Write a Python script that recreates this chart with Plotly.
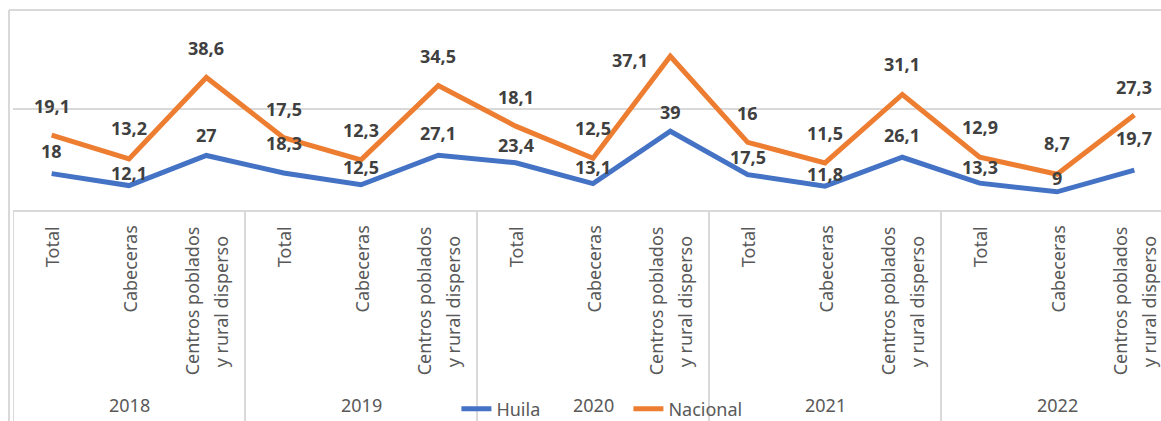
import numpy as np
import plotly.graph_objects as go

# ---- data ----
years = ["2018", "2019", "2020", "2021", "2022"]
areas = ["Total", "Cabeceras", "Centros poblados<br>y rural disperso"]
huila = [18, 12.1, 27, 18.3, 12.5, 27.1, 23.4, 13.1, 39, 17.5, 11.8, 26.1, 13.3, 9, 19.7]
nacional = [19.1, 13.2, 38.6, 17.5, 12.3, 34.5, 18.1, 12.5, 37.1, 16, 11.5, 31.1, 12.9, 8.7, 27.3]
huila_labels = ["18", "12,1", "27", "18,3", "12,5", "27,1", "23,4", "13,1", "39", "17,5", "11,8", "26,1", "13,3", "9", "19,7"]
nacional_labels = ["19,1", "13,2", "38,6", "17,5", "12,3", "34,5", "18,1", "12,5", "37,1", "16", "11,5", "31,1", "12,9", "8,7", "27,3"]

# label placement (pixels above the point; Excel labels were nudged individually)
huila_dy = [23, 13, 20, 30, 18, 22, 18, 17, 19, 18, 12, 22, 16, 14, 32]
nacional_dy = [29, 31, 29, 29, 30, 30, 29, 30, -4, 29, 30, 30, 30, 31, 28]
nacional_dx = [0, 0, 0, 0, 0, 0, 0, 0, -40, 0, 0, 0, 0, 0, 0]

BLUE = "#4472C4"
ORANGE = "#ED7D31"
GRID = "#D9D9D9"
TXT = "#595959"
LBL = "#404040"
FONT = "Noto Sans"

n = len(huila)
x = np.arange(n)
stack_top = np.array(huila) + np.array(nacional)

W, H = 1161, 421
ML, MT, MB = 13, 10, 211
plot_w = W - ML
plot_h = H - MT - MB
cat_w = 232 / 3.0

fig = go.Figure()
fig.add_trace(go.Scatter(x=x, y=huila, name="Huila", mode="lines", stackgroup="s", fill="none",
                         line=dict(color=BLUE, width=5), hoverinfo="skip"))
fig.add_trace(go.Scatter(x=x, y=nacional, name="Nacional", mode="lines", stackgroup="s", fill="none",
                         line=dict(color=ORANGE, width=5), hoverinfo="skip"))

ann = []
for i in range(n):
    ann.append(dict(x=i, y=huila[i], xref="x", yref="y", text=f"<b>{huila_labels[i]}</b>", showarrow=False,
                    yshift=huila_dy[i], xanchor="center", yanchor="middle",
                    font=dict(family=FONT, size=18, color=LBL)))
    ann.append(dict(x=i, y=stack_top[i], xref="x", yref="y", text=f"<b>{nacional_labels[i]}</b>", showarrow=False,
                    yshift=nacional_dy[i], xshift=nacional_dx[i], xanchor="center", yanchor="middle",
                    font=dict(family=FONT, size=18, color=LBL)))

# category labels (two-level axis drawn as text)
for gi, yr in enumerate(years):
    for ai, ar in enumerate(areas):
        i = gi * len(areas) + ai
        lines = ar.split("<br>")
        k = len(lines)
        for li, ln in enumerate(lines):
            off = (li - (k - 1) / 2) * 29
            ann.append(dict(x=i, y=0, xref="x", yref="paper", text=ln, showarrow=False, textangle=-90,
                            xanchor="center", yanchor="top", xshift=off, yshift=-14 - (0 if li == 0 else 10),
                            font=dict(family=FONT, size=18, color=TXT)))
    ann.append(dict(x=gi * len(areas) + 1, y=0, xref="x", yref="paper", text=yr, showarrow=False,
                    xanchor="center", yanchor="middle", yshift=-195,
                    font=dict(family=FONT, size=18, color=TXT)))

shapes = []
for b in range(len(years) + 1):
    shapes.append(dict(type="line", xref="x", yref="paper", ysizemode="pixel", yanchor=0,
                       x0=b * len(areas) - 0.5, x1=b * len(areas) - 0.5, y0=0, y1=-215,
                       line=dict(color=GRID, width=2)))
# chart frame (top and left border)
shapes.append(dict(type="line", xref="paper", yref="paper", xsizemode="pixel", xanchor=0,
                   ysizemode="pixel", yanchor=1, x0=-4, x1=-4, y0=0, y1=-(plot_h + MB + 5),
                   line=dict(color=GRID, width=2)))
shapes.append(dict(type="line", xref="paper", yref="paper", xsizemode="pixel", xanchor=0,
                   x0=-4, x1=plot_w + 10, y0=1, y1=1, line=dict(color=GRID, width=2)))

fig.update_layout(
    width=W, height=H,
    margin=dict(l=ML, r=0, t=MT, b=MB, pad=0, autoexpand=False),
    paper_bgcolor="white", plot_bgcolor="white",
    showlegend=True,
    legend=dict(orientation="h", x=(461 - ML) / plot_w - 0.004, xanchor="left",
                y=(210 - 409) / plot_h, yanchor="middle",
                bgcolor="rgba(0,0,0,0)", font=dict(family=FONT, size=18, color=TXT),
                entrywidth=127, entrywidthmode="pixels", itemclick=False, itemdoubleclick=False),
    xaxis=dict(range=[-0.5, -0.5 + plot_w / cat_w], showticklabels=False, showgrid=False, zeroline=False,
               showline=True, linecolor=GRID, linewidth=2, ticks=""),
    yaxis=dict(range=[0, 99], dtick=50, showticklabels=False, showgrid=True, gridcolor=GRID, gridwidth=2,
               zeroline=False, showline=False, ticks=""),
    annotations=ann, shapes=shapes,
)

fig.write_html("out.html", config={"displayModeBar": False},
               post_script="document.body.style.margin='0';document.body.style.overflow='hidden';")
